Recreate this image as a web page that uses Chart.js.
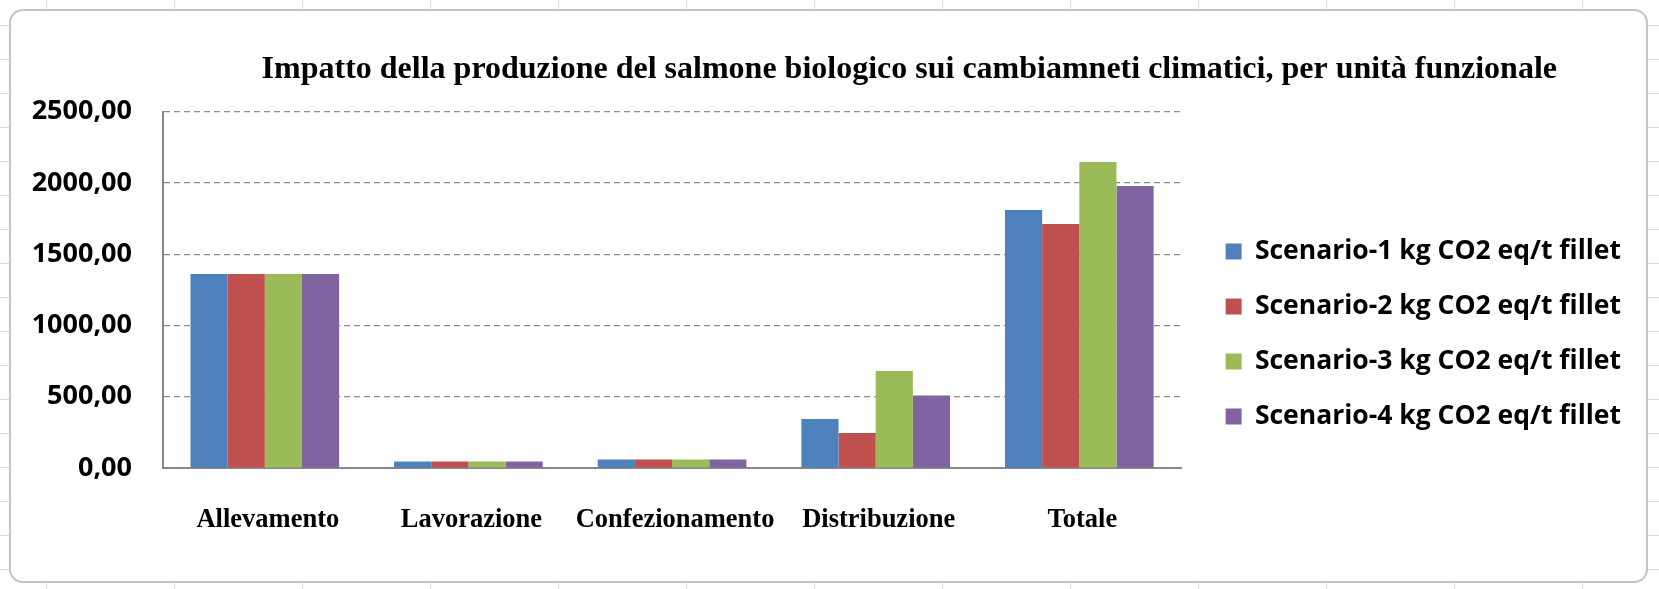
<!DOCTYPE html>
<html>
<head>
<meta charset="utf-8">
<script src="https://cdn.jsdelivr.net/npm/chart.js@4.4.0/dist/chart.umd.min.js"></script>
<style>
    html, body {
        margin: 0;
        padding: 0;
        width: 1659px;
        height: 589px;
        overflow: hidden;
        background-color: #fff;
        background-image:
            repeating-linear-gradient(to right, transparent 0, transparent 46px, #dcdcdc 46px, #dcdcdc 47px, transparent 47px, transparent 128px),
            repeating-linear-gradient(to bottom, transparent 0, transparent 25px, #dcdcdc 25px, #dcdcdc 26px, transparent 26px, transparent 34px);
    }
    #frame {
        position: absolute;
        left: 9px;
        top: 9px;
        width: 1639px;
        height: 574px;
        box-sizing: border-box;
        border: 2px solid #c4c4c4;
        border-radius: 14px;
        background: #fff;
    }
    #wrap {
        position: absolute;
        left: 11px;
        top: 11px;
        width: 1637px;
        height: 571px;
    }
</style>
</head>
<body>
<div id="frame"></div>
<div id="wrap"><canvas id="ClimateChart"></canvas></div>
<script>
    const chartTitle = 'Impatto della produzione del salmone biologico sui cambiamneti climatici, per unità funzionale';
    const categories = ['Allevamento', 'Lavorazione', 'Confezionamento', 'Distribuzione', 'Totale'];
    const scenario1 = [1361, 45, 60, 344, 1811];
    const scenario2 = [1361, 45, 60, 246, 1712];
    const scenario3 = [1361, 45, 60, 681, 2147];
    const scenario4 = [1361, 45, 60, 509, 1979];
    const seriesNames = [
        'Scenario-1 kg CO2 eq/t fillet',
        'Scenario-2 kg CO2 eq/t fillet',
        'Scenario-3 kg CO2 eq/t fillet',
        'Scenario-4 kg CO2 eq/t fillet'
    ];
    const yTickLabels = ['0,00', '500,00', '1000,00', '1500,00', '2000,00', '2500,00'];

    const colors = ['#4F81BD', '#C0504D', '#9BBB59', '#8064A2'];
    const allSeries = [scenario1, scenario2, scenario3, scenario4];

    // the title in the original sits right of centre, so it is drawn here instead of by the title plugin
    const rightTitle = {
        id: 'rightTitle',
        afterDraw(chart, args, opts) {
            const c = chart.ctx;
            c.save();
            c.font = opts.font;
            c.fillStyle = '#000';
            c.textAlign = 'right';
            c.textBaseline = 'middle';
            c.fillText(opts.text, chart.width - opts.right, opts.y);
            c.restore();
        }
    };

    const ctx = document.getElementById('ClimateChart');
    new Chart(ctx, {
        type: 'bar',
        data: {
            labels: categories,
            datasets: allSeries.map((values, i) => ({
                label: seriesNames[i],
                data: values,
                backgroundColor: colors[i],
                borderWidth: 0,
                categoryPercentage: 0.73,
                barPercentage: 1
            }))
        },
        plugins: [rightTitle],
        options: {
            responsive: true,
            maintainAspectRatio: false,
            animation: false,
            layout: {
                padding: { left: 18, right: 17, top: 100.7, bottom: 10 }
            },
            plugins: {
                rightTitle: {
                    text: chartTitle,
                    font: 'bold 32px "Liberation Serif", "Times New Roman", serif',
                    right: 91,
                    y: 59
                },
                title: { display: false },
                legend: {
                    position: 'right',
                    align: 'start',
                    fullSize: false,
                    maxWidth: 1000,
                    title: {
                        display: true,
                        text: '',
                        font: { size: 10 },
                        padding: { top: 86, bottom: 0 }
                    },
                    labels: {
                        color: '#000',
                        boxWidth: 16,
                        boxHeight: 16,
                        padding: 28.5,
                        font: { family: '"Open Sans", sans-serif', size: 26.5, weight: 'bold' }
                    }
                },
                tooltip: { enabled: false }
            },
            scales: {
                x: {
                    grid: { display: false, drawTicks: false },
                    border: { display: true, color: '#888888', width: 2 },
                    ticks: {
                        color: '#000',
                        padding: 36,
                        labelOffset: 3,
                        maxRotation: 0,
                        autoSkip: false,
                        font: { family: '"Liberation Serif", "Times New Roman", serif', size: 26.5, weight: 'bold' }
                    },
                    afterFit: (scale) => { scale.height = 104; }
                },
                y: {
                    min: 0,
                    max: 2500,
                    grid: { color: '#8c8c8c', lineWidth: 1.2, drawTicks: false },
                    border: { display: true, color: '#888888', width: 2, dash: [6, 4] },
                    ticks: {
                        stepSize: 500,
                        color: '#000',
                        padding: 31,
                        font: { family: '"Open Sans", sans-serif', size: 27, weight: 'bold' },
                        callback: (value, index) => yTickLabels[index]
                    },
                    afterFit: (scale) => { scale.width = 134; }
                },
                spacer: {
                    type: 'linear',
                    position: 'right',
                    grid: { display: false, drawTicks: false },
                    border: { display: false },
                    ticks: { display: false },
                    afterFit: (scale) => { scale.width = 16; }
                }
            }
        }
    });
</script>
</body>
</html>
